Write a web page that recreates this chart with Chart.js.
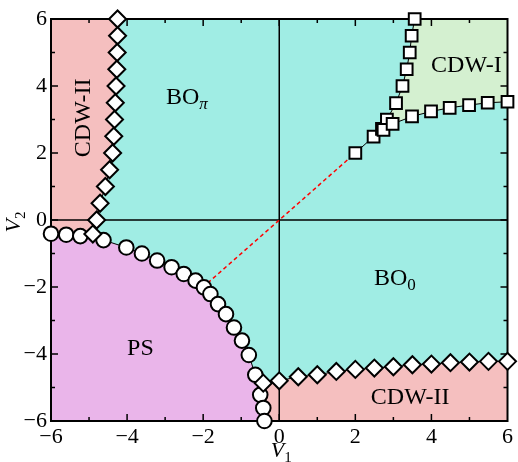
<!DOCTYPE html>
<html>
<head>
<meta charset="utf-8">
<script src="https://cdn.jsdelivr.net/npm/chart.js@4"></script>
<style>
html, body { margin: 0; padding: 0; background: #fff; }
</style>
</head>
<body>
<canvas id="myChart" width="518" height="462"></canvas>
<script>
// CDW-II / BO_pi boundary (diamonds, left side)
var cdw2LeftV1 = [-4.25, -4.25, -4.26, -4.27, -4.29, -4.31, -4.33, -4.35, -4.38, -4.46, -4.57, -4.71, -4.80, -4.90];
var cdw2LeftV2 = [6, 5.5, 5, 4.5, 4, 3.5, 3, 2.5, 2, 1.5, 1, 0.5, 0, -0.42];

// CDW-II / BO_0 boundary (diamonds, bottom)
var cdw2BotV1 = [-0.42, 0, 0.5, 1, 1.5, 2, 2.5, 3, 3.5, 4, 4.5, 5, 5.5, 6];
var cdw2BotV2 = [-4.87, -4.8, -4.68, -4.62, -4.52, -4.46, -4.42, -4.38, -4.32, -4.3, -4.26, -4.24, -4.22, -4.22];

// PS boundary (circles)
var psV1 = [-6.0, -5.6, -5.23, -4.62, -4.02, -3.61, -3.21, -2.83, -2.51, -2.2, -1.98, -1.81, -1.61, -1.4, -1.19, -0.98, -0.8, -0.63, -0.5, -0.42, -0.39];
var psV2 = [-0.41, -0.44, -0.48, -0.6, -0.82, -1.0, -1.21, -1.41, -1.61, -1.81, -2.01, -2.21, -2.51, -2.81, -3.21, -3.6, -4.03, -4.62, -5.22, -5.61, -6.0];

// CDW-I boundary (squares)
var sqUpV1 = [2.0, 2.48, 2.70, 2.83, 3.07, 3.24, 3.35, 3.43, 3.48, 3.56];
var sqUpV2 = [2.0, 2.49, 2.72, 3.0, 3.49, 4.0, 4.5, 5.0, 5.5, 6.0];
var sqLowV1 = [2.74, 2.98, 3.49, 3.99, 4.48, 4.99, 5.48, 6.0];
var sqLowV2 = [2.69, 2.87, 3.09, 3.24, 3.35, 3.43, 3.5, 3.53];

// dashed guide V1 = V2
var diagV1 = [-1.88, 2.0];
var diagV2 = [-1.88, 2.0];

// axis range / ticks
var axisMin = -6, axisMax = 6, axisStep = 2;

// phase names
var regionText = ['CDW-II', 'BO', 'CDW-I', 'BO', 'PS', 'CDW-II'];
var regionSub = ['', '\u03c0', '', '0', '', ''];

// where the names sit (data coords)
var regionPos = [
	{v1: -5.19, v2: 3.05, rot: true},
	{v1: -2.43, v2: 3.70},
	{v1: 4.92, v2: 4.66},
	{v1: 3.04, v2: -1.69},
	{v1: -3.65, v2: -3.78},
	{v1: 3.44, v2: -5.27}
];

var SERIF = "'Liberation Serif', 'DejaVu Serif', serif";

function pts(xs, ys) {
	return xs.map(function(v, i) { return {x: v, y: ys[i]}; });
}

var psPts = pts(psV1, psV2);
var leftPts = pts(cdw2LeftV1, cdw2LeftV2);
var botPts = pts(cdw2BotV1, cdw2BotV2);
var upPts = pts(sqUpV1, sqUpV2);
var lowPts = pts(sqLowV1, sqLowV2);

var polyAll = [{x: axisMin, y: axisMin}, {x: axisMax, y: axisMin}, {x: axisMax, y: axisMax}, {x: axisMin, y: axisMax}];
var polyLeft = [{x: axisMin, y: axisMax}].concat(leftPts, psPts.filter(function(p) { return p.x < -4.9; }).reverse());
var polyPS = psPts.concat([{x: axisMin, y: axisMin}]);
var polyBot = botPts.concat([{x: axisMax, y: axisMin}], psPts.filter(function(p) { return p.y < -4.87; }).reverse());
var polyCDW1 = [{x: axisMax, y: axisMax}].concat(
	upPts.filter(function(p) { return p.y >= 3.0; }).reverse(),
	lowPts.filter(function(p) { return p.x >= 2.98; }));

function areaSet(data, color, order) {
	return {
		data: data,
		showLine: true,
		fill: 'shape',
		backgroundColor: color,
		borderColor: 'transparent',
		borderWidth: 0,
		pointRadius: 0,
		tension: 0,
		order: order
	};
}

function markerSet(data, style, radius, order) {
	return {
		data: data,
		showLine: true,
		fill: false,
		borderColor: '#000',
		borderWidth: 1,
		pointStyle: style,
		pointRadius: radius,
		pointBorderWidth: 2,
		pointBackgroundColor: '#fff',
		pointBorderColor: '#000',
		tension: 0,
		clip: false,
		order: order
	};
}

var lastArea = areaSet(polyCDW1, '#d4f0d0', 85);
lastArea.lastArea = true;

var _datasets = [
	markerSet(lowPts, 'rect', 8.3, 5),
	markerSet(upPts, 'rect', 8.3, 6),
	markerSet(botPts, 'rectRot', 8.5, 10),
	markerSet(leftPts, 'rectRot', 8.5, 11),
	markerSet(psPts, 'circle', 7.3, 20),
	{
		data: pts(diagV1, diagV2),
		showLine: true,
		fill: false,
		borderColor: '#ff0000',
		borderWidth: 1.5,
		borderDash: [4, 3],
		pointRadius: 0,
		order: 40
	},
	lastArea,
	areaSet(polyBot, '#f5bfbf', 90),
	areaSet(polyPS, '#eab5ea', 90),
	areaSet(polyLeft, '#f5bfbf', 90),
	areaSet(polyAll, '#a0ede4', 100)
];

// frame, inner ticks and zero lines: drawn over the fills, under the markers
var frameTicks = {
	id: 'frameTicks',
	afterDatasetDraw: function(chart, args) {
		if (!chart.data.datasets[args.index].lastArea) return;
		var ctx = chart.ctx, a = chart.chartArea;
		var xs = chart.scales.x, ys = chart.scales.y;
		ctx.save();
		ctx.strokeStyle = '#000';
		ctx.lineWidth = 1.5;
		ctx.beginPath();
		var x0 = xs.getPixelForValue(0), y0 = ys.getPixelForValue(0);
		ctx.moveTo(a.left, y0); ctx.lineTo(a.right, y0);
		ctx.moveTo(x0, a.top); ctx.lineTo(x0, a.bottom);
		ctx.stroke();
		ctx.beginPath();
		for (var v = axisMin + 1; v < axisMax; v++) {
			var len = (v % 2 === 0) ? 7 : 4;
			var px = xs.getPixelForValue(v), py = ys.getPixelForValue(v);
			ctx.moveTo(px, a.bottom); ctx.lineTo(px, a.bottom - len);
			ctx.moveTo(px, a.top); ctx.lineTo(px, a.top + len);
			ctx.moveTo(a.left, py); ctx.lineTo(a.left + len, py);
			ctx.moveTo(a.right, py); ctx.lineTo(a.right - len, py);
		}
		ctx.stroke();
		ctx.lineWidth = 2;
		ctx.strokeRect(a.left, a.top, a.right - a.left, a.bottom - a.top);
		ctx.restore();
	}
};

// text with a subscript; x,y = centre of the capitals
function drawSub(ctx, x, y, main, sub, size, rot, mainItalic, subItalic) {
	ctx.save();
	ctx.translate(x, y);
	if (rot) ctx.rotate(-Math.PI / 2);
	var mainFont = (mainItalic ? 'italic ' : '') + size + 'px ' + SERIF;
	var subSize = Math.round(size * 0.7);
	var subFont = (subItalic ? 'italic ' : '') + subSize + 'px ' + SERIF;
	ctx.font = mainFont;
	var wm = ctx.measureText(main).width;
	ctx.font = subFont;
	var ws = sub ? ctx.measureText(sub).width : 0;
	var x1 = -(wm + ws) / 2;
	var base = size * 0.33;
	ctx.fillStyle = '#000';
	ctx.textAlign = 'left';
	ctx.textBaseline = 'alphabetic';
	ctx.font = mainFont;
	ctx.fillText(main, x1, base);
	if (sub) {
		ctx.font = subFont;
		ctx.fillText(sub, x1 + wm, base + size * 0.22);
	}
	ctx.restore();
}

var textLayer = {
	id: 'textLayer',
	afterDraw: function(chart) {
		var ctx = chart.ctx, a = chart.chartArea;
		var xs = chart.scales.x, ys = chart.scales.y;
		regionText.forEach(function(t, i) {
			var p = regionPos[i];
			drawSub(ctx, xs.getPixelForValue(p.v1), ys.getPixelForValue(p.v2), t, regionSub[i], 24, p.rot, false, regionSub[i] === '\u03c0');
		});
		// axis titles
		drawSub(ctx, (a.left + a.right) / 2 + 2, a.bottom + 29, 'V', '1', 22, false, true, false);
		drawSub(ctx, 13, (a.top + a.bottom) / 2 + 2, 'V', '2', 22, true, true, false);
	}
};

function fmtTick(v) {
	return v < 0 ? '\u2212' + Math.abs(v) : String(v);
}

var _config = {
	type: 'scatter',
	data: {datasets: _datasets},
	options: {
		responsive: false,
		animation: false,
		events: [],
		layout: {padding: {top: 19, right: 7, left: 0, bottom: 0}},
		plugins: {
			legend: {display: false},
			tooltip: {enabled: false}
		},
		scales: {
			x: {
				type: 'linear',
				min: axisMin,
				max: axisMax,
				afterFit: function(s) { s.height = 41; },
				grid: {display: false, drawTicks: false},
				border: {display: false},
				ticks: {
					stepSize: axisStep,
					autoSkip: false,
					maxRotation: 0,
					padding: 3,
					color: '#000',
					font: {family: SERIF, size: 22},
					callback: fmtTick
				}
			},
			y: {
				type: 'linear',
				min: axisMin,
				max: axisMax,
				afterFit: function(s) { s.width = 51; },
				grid: {display: false, drawTicks: false},
				border: {display: false},
				ticks: {
					stepSize: axisStep,
					autoSkip: false,
					padding: 4,
					color: '#000',
					font: {family: SERIF, size: 22},
					callback: fmtTick
				}
			}
		}
	},
	plugins: [frameTicks, textLayer]
};

var myChart = new Chart(document.getElementById('myChart'), _config);
</script>
</body>
</html>
